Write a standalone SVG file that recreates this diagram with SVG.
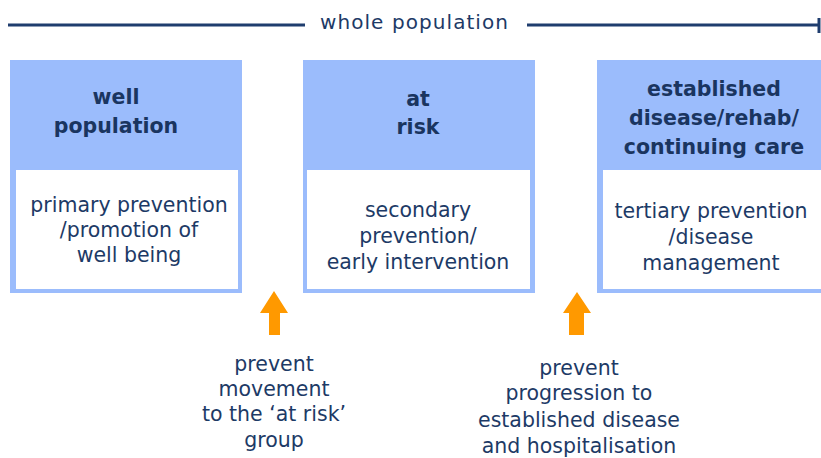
<svg xmlns="http://www.w3.org/2000/svg" width="821" height="458" viewBox="0 0 821 458">
<style>
.outer{fill:#9bbcfc;}
.inner{fill:#ffffff;}
.t{font-family:"DejaVu Sans","Liberation Sans",sans-serif;fill:#1d3a66;text-anchor:middle;font-size:20.5px;}
.h{font-weight:bold;font-size:20.5px;fill:#1a3560;}
.arr{fill:#ff9900;}
.line{stroke:#1f3d6e;stroke-width:3;fill:none;}
</style>
<rect width="821" height="458" fill="#ffffff"/>
<g id="title">
<line class="line" x1="8" y1="25" x2="305" y2="25"/>
<line class="line" x1="527" y1="25" x2="819" y2="25"/>
<line class="line" x1="819" y1="18" x2="819" y2="33"/>
<text class="t" x="414" y="29" style="font-size:20px" textLength="188" lengthAdjust="spacing">whole population</text>
</g>
<g id="well-population">
<rect class="outer" x="10" y="60" width="232" height="233"/>
<rect class="inner" x="16" y="170" width="222" height="119"/>
<text class="t h" x="116" y="104">well</text>
<text class="t h" x="116" y="133">population</text>
<text class="t" x="129" y="212">primary prevention</text>
<text class="t" x="129" y="237">/promotion of</text>
<text class="t" x="129" y="262">well being</text>
</g>
<g id="at-risk">
<rect class="outer" x="303" y="60" width="232" height="233"/>
<rect class="inner" x="307" y="170" width="223" height="119"/>
<text class="t h" x="418" y="106">at</text>
<text class="t h" x="418" y="134">risk</text>
<text class="t" x="418" y="217">secondary</text>
<text class="t" x="418" y="243">prevention/</text>
<text class="t" x="418" y="269">early intervention</text>
</g>
<g id="established-disease">
<rect class="outer" x="597" y="60" width="230" height="233"/>
<rect class="inner" x="603" y="170" width="224" height="119"/>
<text class="t h" x="714" y="96">established</text>
<text class="t h" x="714" y="125">disease/rehab/</text>
<text class="t h" x="714" y="154">continuing care</text>
<text class="t" x="711" y="218">tertiary prevention</text>
<text class="t" x="711" y="244">/disease</text>
<text class="t" x="711" y="270">management</text>
</g>
<g id="connectors">
<path class="arr" d="M274,291 L288,313 L280,313 L280,335 L269,335 L269,313 L260,313 Z"/>
<path class="arr" d="M577,292 L591,313 L584,313 L584,335 L569,335 L569,313 L563,313 Z"/>
</g>
<g id="prevent-movement">
<text class="t" x="274" y="371">prevent</text>
<text class="t" x="274" y="396">movement</text>
<text class="t" x="274" y="421">to the ‘at risk’</text>
<text class="t" x="274" y="447">group</text>
</g>
<g id="prevent-progression">
<text class="t" x="579" y="375">prevent</text>
<text class="t" x="579" y="400">progression to</text>
<text class="t" x="579" y="427">established disease</text>
<text class="t" x="579" y="453">and hospitalisation</text>
</g>
</svg>
